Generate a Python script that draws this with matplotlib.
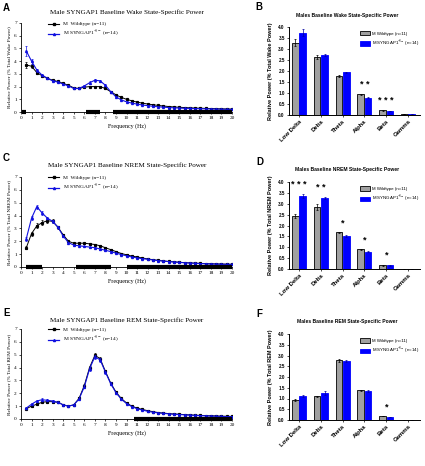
import numpy as np
import matplotlib.pyplot as plt
from matplotlib.patches import Patch
from matplotlib.lines import Line2D

plt.rcParams['font.family'] = 'Liberation Serif'
plt.rcParams['mathtext.fontset'] = 'stix'

# frequency grid of the spectra (Hz)
freq = np.arange(0.5, 20.01, 0.5)

# relative power (% of total state power)
wake_wt = [3.7, 3.6, 3.1, 2.85, 2.65, 2.5, 2.4, 2.25, 2.1, 1.9,
           1.85, 1.95, 2.0, 2.0, 2.0, 1.85, 1.6, 1.35, 1.15, 1.0,
           0.88, 0.78, 0.7, 0.63, 0.57, 0.52, 0.47, 0.43, 0.4, 0.37,
           0.35, 0.33, 0.31, 0.3, 0.28, 0.27, 0.26, 0.25, 0.24, 0.23]
wake_syn = [4.8, 4.0, 3.3, 2.9, 2.65, 2.45, 2.35, 2.2, 2.05, 1.85,
            1.85, 2.05, 2.3, 2.5, 2.45, 2.1, 1.6, 1.2, 0.95, 0.8,
            0.7, 0.62, 0.55, 0.5, 0.45, 0.41, 0.38, 0.35, 0.33, 0.31,
            0.29, 0.28, 0.27, 0.26, 0.25, 0.24, 0.23, 0.22, 0.21, 0.2]
wake_wt_sem = [0.2, 0.15, 0.1, 0.08, 0.06, 0.05, 0.05, 0.04, 0.04, 0.04,
               0.04, 0.05, 0.06, 0.06, 0.06, 0.05, 0.04, 0.04, 0.03, 0.03,
               0.03, 0.02, 0.02, 0.02, 0.02, 0.02, 0.02, 0.02, 0.02, 0.02,
               0.02, 0.02, 0.02, 0.02, 0.02, 0.02, 0.02, 0.02, 0.02, 0.02]
wake_syn_sem = [0.4, 0.2, 0.12, 0.08, 0.06, 0.05, 0.05, 0.04, 0.04, 0.04,
                0.04, 0.06, 0.1, 0.12, 0.1, 0.08, 0.05, 0.04, 0.03, 0.03,
                0.03, 0.02, 0.02, 0.02, 0.02, 0.02, 0.02, 0.02, 0.02, 0.02,
                0.02, 0.02, 0.02, 0.02, 0.02, 0.02, 0.02, 0.02, 0.02, 0.02]

nrem_wt = [1.5, 2.6, 3.2, 3.45, 3.6, 3.55, 3.1, 2.5, 2.0, 1.85,
           1.85, 1.85, 1.8, 1.75, 1.65, 1.5, 1.35, 1.2, 1.05, 0.95,
           0.85, 0.78, 0.7, 0.63, 0.57, 0.52, 0.47, 0.43, 0.4, 0.37,
           0.34, 0.32, 0.3, 0.28, 0.26, 0.25, 0.24, 0.23, 0.22, 0.21]
nrem_syn = [2.2, 3.8, 4.7, 4.2, 3.8, 3.55, 3.1, 2.4, 1.9, 1.7,
            1.65, 1.6, 1.55, 1.5, 1.4, 1.3, 1.2, 1.08, 0.97, 0.87,
            0.78, 0.71, 0.65, 0.6, 0.55, 0.5, 0.46, 0.42, 0.39, 0.36,
            0.33, 0.31, 0.29, 0.27, 0.25, 0.24, 0.23, 0.22, 0.21, 0.2]
nrem_wt_sem = [0.1, 0.15, 0.2, 0.2, 0.2, 0.15, 0.12, 0.08, 0.06, 0.05,
               0.05, 0.05, 0.05, 0.05, 0.04, 0.04, 0.04, 0.03, 0.03, 0.03,
               0.03, 0.02, 0.02, 0.02, 0.02, 0.02, 0.02, 0.02, 0.02, 0.02,
               0.02, 0.02, 0.02, 0.02, 0.02, 0.02, 0.02, 0.02, 0.02, 0.02]
nrem_syn_sem = [0.15, 0.15, 0.15, 0.12, 0.1, 0.1, 0.08, 0.06, 0.05, 0.04,
                0.04, 0.04, 0.04, 0.04, 0.04, 0.03, 0.03, 0.03, 0.03, 0.03,
                0.02, 0.02, 0.02, 0.02, 0.02, 0.02, 0.02, 0.02, 0.02, 0.02,
                0.02, 0.02, 0.02, 0.02, 0.02, 0.02, 0.02, 0.02, 0.02, 0.02]

rem_wt = [0.8, 1.0, 1.15, 1.3, 1.35, 1.35, 1.3, 1.1, 1.0, 1.1,
          1.6, 2.6, 4.0, 4.95, 4.7, 3.7, 2.8, 2.1, 1.6, 1.25,
          1.0, 0.85, 0.74, 0.65, 0.57, 0.5, 0.46, 0.42, 0.39, 0.37,
          0.34, 0.32, 0.3, 0.28, 0.26, 0.25, 0.24, 0.22, 0.21, 0.2]
rem_syn = [0.85, 1.15, 1.4, 1.5, 1.45, 1.4, 1.3, 1.1, 1.0, 1.1,
           1.55, 2.5, 3.9, 4.85, 4.6, 3.65, 2.75, 2.05, 1.55, 1.2,
           0.97, 0.8, 0.7, 0.6, 0.53, 0.48, 0.44, 0.4, 0.37, 0.35,
           0.32, 0.3, 0.28, 0.26, 0.25, 0.23, 0.22, 0.2, 0.19, 0.18]
rem_wt_sem = [0.05, 0.06, 0.08, 0.08, 0.08, 0.07, 0.06, 0.05, 0.05, 0.06,
              0.08, 0.12, 0.15, 0.15, 0.15, 0.12, 0.1, 0.08, 0.06, 0.05,
              0.04, 0.03, 0.03, 0.02, 0.02, 0.02, 0.02, 0.02, 0.02, 0.02,
              0.02, 0.02, 0.02, 0.02, 0.02, 0.02, 0.02, 0.02, 0.02, 0.02]
rem_syn_sem = [0.05, 0.07, 0.1, 0.1, 0.08, 0.07, 0.06, 0.05, 0.05, 0.06,
               0.08, 0.12, 0.15, 0.15, 0.15, 0.12, 0.1, 0.08, 0.06, 0.05,
               0.04, 0.03, 0.03, 0.02, 0.02, 0.02, 0.02, 0.02, 0.02, 0.02,
               0.02, 0.02, 0.02, 0.02, 0.02, 0.02, 0.02, 0.02, 0.02, 0.02]

# frequency ranges with significant differences (black bars on the x axis)
wake_sig = [(0.1, 0.5), (6.2, 7.5), (8.75, 20)]
nrem_sig = [(0.5, 2.0), (5.25, 8.5), (10, 20)]
rem_sig = [(10.75, 20)]

# band power
bands = ['Low Delta', 'Delta', 'Theta', 'Alpha', 'Beta', 'Gamma']
wake_bar_wt = [3.28, 2.62, 1.77, 0.93, 0.21, 0.04]
wake_bar_wt_sem = [0.15, 0.08, 0.04, 0.02, 0.02, 0.005]
wake_bar_syn = [3.73, 2.73, 1.93, 0.78, 0.17, 0.04]
wake_bar_syn_sem = [0.17, 0.05, 0.04, 0.02, 0.01, 0.005]
wake_stars = ['', '', '', '**', '***', '']

nrem_bar_wt = [2.43, 2.85, 1.68, 0.9, 0.18, 0.01]
nrem_bar_wt_sem = [0.1, 0.15, 0.03, 0.03, 0.02, 0.002]
nrem_bar_syn = [3.35, 3.27, 1.52, 0.8, 0.17, 0.01]
nrem_bar_syn_sem = [0.1, 0.05, 0.03, 0.02, 0.02, 0.002]
nrem_stars = ['***', '**', '*', '*', '*', '']

rem_bar_wt = [0.93, 1.1, 2.77, 1.38, 0.18, 0.01]
rem_bar_wt_sem = [0.05, 0.03, 0.06, 0.03, 0.01, 0.002]
rem_bar_syn = [1.13, 1.25, 2.75, 1.35, 0.14, 0.01]
rem_bar_syn_sem = [0.05, 0.08, 0.05, 0.05, 0.01, 0.002]
rem_stars = ['', '', '', '', '*', '']

W, H = 425, 466
fig = plt.figure(figsize=(W / 100, H / 100), dpi=100)


def px_axes(left, top, right, bottom):
    return fig.add_axes([left / W, 1 - bottom / H, (right - left) / W, (bottom - top) / H])


BLUE = '#1010e0'
SANS = 'Liberation Sans'


def spectrum(ax, wt, wt_sem, syn, syn_sem, sig, title, ylab, title_y):
    ax.errorbar(freq, wt, yerr=wt_sem, color='black', lw=0.7, marker='s', ms=1.3,
                elinewidth=0.5, capsize=0.8, capthick=0.5, zorder=3)
    ax.errorbar(freq, syn, yerr=syn_sem, color=BLUE, lw=0.8, marker='^', ms=1.4,
                elinewidth=0.5, capsize=0.8, capthick=0.5, zorder=4)
    for a, b in sig:
        ax.hlines(0, a, b, color='black', lw=3, clip_on=False, zorder=5)
    ax.set_xlim(0, 20)
    ax.set_ylim(0, 7)
    ax.set_xticks(range(0, 21))
    ax.set_yticks(range(0, 8))
    ax.spines[['top', 'right']].set_visible(False)
    for s in ax.spines.values():
        s.set_linewidth(0.6)
    ax.tick_params(labelsize=3.8, length=1.5, width=0.5, pad=1.5)
    ax.set_xlabel('Frequency (Hz)', fontsize=4.3, labelpad=2.5)
    ax.set_ylabel(ylab, fontsize=3.8, labelpad=2)
    fig.text(127 / W, 1 - title_y / H, title, fontsize=5.1, ha='center', va='center')
    handles = [Line2D([], [], color='black', lw=0.8, marker='s', ms=1.5),
               Line2D([], [], color=BLUE, lw=0.9, marker='^', ms=1.5)]
    ax.legend(handles, ['M  Wildtype (n=11)', r'M SYNGAP1$^{+/-}$ (n=14)'],
              loc='upper left', bbox_to_anchor=(0.12, 1.04), fontsize=3.9, frameon=False,
              handlelength=2, handletextpad=0.6, labelspacing=0.5, borderaxespad=0)


def bandbars(ax, wt, wt_sem, syn, syn_sem, stars, title, ylab, title_y):
    x = np.arange(len(bands))
    ax.bar(x - 0.17, wt, 0.3, yerr=wt_sem, color='#a0a0a0', edgecolor='black', lw=0.6,
           error_kw=dict(elinewidth=0.5, capsize=1, capthick=0.5, ecolor='black'))
    ax.bar(x + 0.17, syn, 0.3, yerr=syn_sem, color='#0000ff', edgecolor='#0000ff', lw=0.6,
           error_kw=dict(elinewidth=0.5, capsize=1, capthick=0.5, ecolor='#0000a0'))
    for i, s in enumerate(stars):
        if s:
            top = max(wt[i] + wt_sem[i], syn[i] + syn_sem[i])
            ax.text(i, top + 0.42, ' '.join(s), ha='center', va='center', fontsize=6.5,
                    fontweight='bold', family=SANS)
    ax.set_xlim(-0.46, 5.55)
    ax.set_ylim(0, 4)
    ax.set_yticks(np.arange(0, 4.01, 0.5))
    ax.set_yticklabels(['%.1f' % v for v in np.arange(0, 4.01, 0.5)], family=SANS,
                       fontweight='bold')
    ax.set_xticks(x)
    ax.set_xticklabels(bands, rotation=45, ha='right', rotation_mode='anchor', family=SANS,
                       fontweight='bold', fontsize=4.3)
    ax.spines[['top', 'right']].set_visible(False)
    for s in ax.spines.values():
        s.set_linewidth(0.7)
    ax.tick_params(axis='y', labelsize=3.3, length=1.5, width=0.5, pad=1.5)
    ax.tick_params(axis='x', length=1.5, width=0.5, pad=1.5)
    ax.set_ylabel(ylab, fontsize=4, family=SANS, fontweight='bold', labelpad=4)
    fig.text(347 / W, 1 - title_y / H, title, fontsize=3.6, ha='center', va='center',
             family=SANS, fontweight='bold')
    handles = [Patch(facecolor='#a0a0a0', edgecolor='black', lw=0.6),
               Patch(facecolor='#0000ff', edgecolor='#0000ff', lw=0.6)]
    leg = ax.legend(handles, ['M Wildtype (n=11)', r'M SYNGAP1$^{+/-}$ (n=14)'],
                    loc='upper left', bbox_to_anchor=(0.53, 0.97), fontsize=3.2,
                    frameon=False, handlelength=2.2, handleheight=1.1,
                    handletextpad=0.5, labelspacing=0.6, borderaxespad=0)
    for t in leg.get_texts():
        t.set_family(SANS)


axA = px_axes(21, 23, 232, 112)
spectrum(axA, wake_wt, wake_wt_sem, wake_syn, wake_syn_sem, wake_sig,
         'Male SYNGAP1 Baseline Wake State-Specific Power',
         'Relative Power (% Total Wake Power)', 12)
axC = px_axes(21, 177, 232, 267)
spectrum(axC, nrem_wt, nrem_wt_sem, nrem_syn, nrem_syn_sem, nrem_sig,
         'Male SYNGAP1 Baseline NREM State-Specific Power',
         'Relative Power (% Total NREM Power)', 165)
axE = px_axes(21, 329, 232, 419)
spectrum(axE, rem_wt, rem_wt_sem, rem_syn, rem_syn_sem, rem_sig,
         'Male SYNGAP1 Baseline REM State-Specific Power',
         'Relative Power (% Total REM Power)', 320)

axB = px_axes(289, 26.7, 420, 115)
bandbars(axB, wake_bar_wt, wake_bar_wt_sem, wake_bar_syn, wake_bar_syn_sem, wake_stars,
         'Males Baseline Wake State-Specific Power',
         'Relative Power (% Total Wake Power)', 15)
axD = px_axes(289, 182, 420, 269)
bandbars(axD, nrem_bar_wt, nrem_bar_wt_sem, nrem_bar_syn, nrem_bar_syn_sem, nrem_stars,
         'Males Baseline NREM State-Specific Power',
         'Relative Power (% Total NREM Power)', 170)
axF = px_axes(289, 334, 420, 420)
bandbars(axF, rem_bar_wt, rem_bar_wt_sem, rem_bar_syn, rem_bar_syn_sem, rem_stars,
         'Males Baseline REM State-Specific Power',
         'Relative Power (% Total REM Power)', 322)

for letter, x, y in [('A', 3, 8), ('B', 255, 7), ('C', 3, 158), ('D', 256, 162),
                     ('E', 3, 313), ('F', 256, 314)]:
    fig.text(x / W, 1 - y / H, letter, fontsize=7, fontweight='bold', family=SANS,
             ha='left', va='center')

fig.savefig('out.png', dpi=100)
